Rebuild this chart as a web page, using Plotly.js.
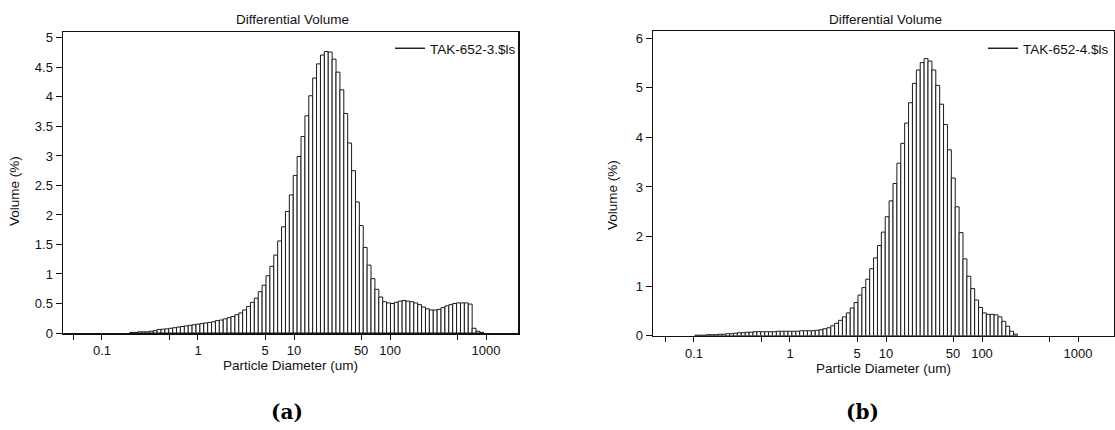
<!DOCTYPE html>
<html><head><meta charset="utf-8">
<script src="https://cdn.plot.ly/plotly-3.0.1.min.js"></script>
<style>html,body{margin:0;padding:0;background:#fff;} #chart{width:1115px;height:430px;}</style>
</head><body><div id="chart"></div>
<script>
// Channel edges (um) of the laser diffraction size analyser
const binEdges = [0.102, 0.112, 0.122, 0.134, 0.148, 0.162, 0.178, 0.195, 0.214, 0.235,
  0.258, 0.283, 0.311, 0.342, 0.375, 0.412, 0.452, 0.496, 0.545, 0.598,
  0.656, 0.721, 0.791, 0.868, 0.953, 1.047, 1.149, 1.261, 1.385, 1.520,
  1.669, 1.832, 2.011, 2.208, 2.423, 2.660, 2.920, 3.206, 3.519, 3.863,
  4.241, 4.656, 5.111, 5.611, 6.159, 6.761, 7.422, 8.148, 8.944, 9.819,
  10.78, 11.83, 12.99, 14.26, 15.65, 17.18, 18.86, 20.71, 22.73, 24.95,
  27.39, 30.07, 33.01, 36.24, 39.78, 43.67, 47.94, 52.62, 57.77, 63.41,
  69.61, 76.42, 83.89, 92.09, 101.1, 111.0, 121.8, 133.7, 146.8, 161.2,
  176.9, 194.2, 213.2, 234.1, 256.9, 282.1, 309.6, 339.9, 373.1, 409.6,
  449.7, 493.6, 541.9, 594.9, 653.0, 716.9, 786.9, 863.9, 948.3, 1041];

// Differential volume (%) per channel, sample TAK-652-3 (a)
const volumeA = [0, 0, 0, 0, 0, 0, 0, 0.01, 0.01, 0.02,
  0.02, 0.02, 0.03, 0.04, 0.06, 0.065, 0.07, 0.08, 0.09, 0.10,
  0.11, 0.12, 0.13, 0.14, 0.15, 0.16, 0.17, 0.18, 0.19, 0.21,
  0.22, 0.24, 0.26, 0.28, 0.31, 0.34, 0.39, 0.45, 0.52, 0.59,
  0.70, 0.81, 0.97, 1.13, 1.32, 1.56, 1.80, 2.06, 2.34, 2.67,
  2.99, 3.33, 3.68, 4.02, 4.32, 4.56, 4.71, 4.77, 4.76, 4.64,
  4.42, 4.12, 3.72, 3.22, 2.75, 2.22, 1.82, 1.45, 1.15, 0.92,
  0.74, 0.61, 0.53, 0.51, 0.50, 0.52, 0.54, 0.55, 0.54, 0.53,
  0.51, 0.48, 0.44, 0.41, 0.39, 0.39, 0.40, 0.43, 0.46, 0.48,
  0.50, 0.51, 0.51, 0.51, 0.49, 0.08, 0.03, 0.01, 0];

// Differential volume (%) per channel, sample TAK-652-4 (b)
const volumeB = [0.01, 0.01, 0.01, 0.02, 0.02, 0.02, 0.03, 0.03, 0.04, 0.04,
  0.05, 0.06, 0.06, 0.07, 0.07, 0.08, 0.08, 0.08, 0.08, 0.08,
  0.08, 0.09, 0.09, 0.09, 0.09, 0.09, 0.09, 0.10, 0.10, 0.10,
  0.10, 0.11, 0.12, 0.14, 0.16, 0.20, 0.25, 0.31, 0.38, 0.46,
  0.56, 0.67, 0.82, 0.97, 1.14, 1.35, 1.57, 1.82, 2.09, 2.40,
  2.72, 3.07, 3.48, 3.88, 4.29, 4.70, 5.09, 5.36, 5.51, 5.59,
  5.54, 5.36, 5.05, 4.67, 4.26, 3.75, 3.18, 2.60, 2.08, 1.55,
  1.20, 0.95, 0.72, 0.57, 0.46, 0.43, 0.43, 0.42, 0.38, 0.29,
  0.19, 0.09, 0.03, 0, 0, 0, 0, 0, 0, 0,
  0, 0, 0, 0, 0, 0, 0, 0, 0];

const seriesNames = ["TAK-652-3.$ls", "TAK-652-4.$ls"];
const panelLabels = ["(a)", "(b)"];
const tickDiameters = [0.05, 0.1, 0.5, 1, 5, 10, 50, 100, 500, 1000];
const tickLabels = ["", "0.1", "", "1", "5", "10", "50", "100", "", "1000"];

const W = 1115, H = 430;
const px = v => v / W;
const py = v => (H - v) / H;
const ink = '#111';
const sans = '"Liberation Sans", Arial, Helvetica, sans-serif';

function binTrace(values, xa, ya) {
  const x = [], y = [], w = [];
  for (let i = 0; i < values.length; i++) {
    if (!(values[i] > 0)) continue;
    const lo = Math.log10(binEdges[i]);
    const hi = Math.log10(binEdges[i + 1]);
    x.push(lo); w.push(hi - lo); y.push(values[i]);
  }
  return {type: 'bar', x: x, y: y, width: w, offset: 0, xaxis: xa, yaxis: ya,
    marker: {color: '#ffffff', line: {color: '#1a1a1a', width: 1}},
    showlegend: false, hoverinfo: 'skip'};
}
function legendTrace(name, xa, ya, lg) {
  return {type: 'scatter', mode: 'lines', x: [null], y: [null], name: name,
    xaxis: xa, yaxis: ya, legend: lg, line: {color: '#222', width: 1.5}, hoverinfo: 'skip'};
}

const data = [
  binTrace(volumeA, 'x', 'y'),
  binTrace(volumeB, 'x2', 'y2'),
  legendTrace(seriesNames[0], 'x', 'y', 'legend'),
  legendTrace(seriesNames[1], 'x2', 'y2', 'legend2')
];

function xAxis(dom, rng, anchor) {
  return {domain: dom, range: rng, anchor: anchor, type: 'linear',
    tickmode: 'array', tickvals: tickDiameters.map(Math.log10), ticktext: tickLabels,
    ticks: 'outside', ticklen: 5, tickwidth: 1, tickcolor: ink,
    showline: true, linecolor: ink, linewidth: 1.5, mirror: true,
    showgrid: false, zeroline: false, automargin: false,
    tickfont: {family: sans, size: 13, color: ink},
    title: {text: 'Particle Diameter (um)', font: {family: sans, size: 13.5, color: ink}, standoff: 2}};
}
function yAxis(dom, rng, dt, anchor) {
  return {domain: dom, range: rng, anchor: anchor, dtick: dt, tick0: 0,
    ticks: 'outside', ticklen: 6, tickwidth: 1, tickcolor: ink,
    showline: true, linecolor: ink, linewidth: 1.5, mirror: true,
    showgrid: false, zeroline: false, automargin: false,
    tickfont: {family: sans, size: 13, color: ink}};
}

const layout = {
  width: W, height: H, margin: {l: 0, r: 0, t: 0, b: 0},
  paper_bgcolor: '#fff', plot_bgcolor: '#fff',
  font: {family: sans, size: 13, color: ink},
  bargap: 0, showlegend: true, hovermode: false,
  xaxis: xAxis([px(63), px(518)], [-1.406, 3.333], 'y'),
  yaxis: yAxis([py(333), py(32)], [0, 5.1], 0.5, 'x'),
  xaxis2: xAxis([px(653), px(1114)], [-1.427, 3.375], 'y2'),
  yaxis2: yAxis([py(335.7), py(31)], [0, 6.147], 1, 'x2'),
  legend: {x: px(390), xanchor: 'left', y: py(33), yanchor: 'top', bgcolor: 'rgba(0,0,0,0)',
    borderwidth: 0, font: {family: sans, size: 13.5, color: ink}},
  legend2: {x: px(983), xanchor: 'left', y: py(33), yanchor: 'top', bgcolor: 'rgba(0,0,0,0)',
    borderwidth: 0, font: {family: sans, size: 13.5, color: ink}},
  annotations: [
    {text: 'Differential Volume', x: px(292.5), y: py(19), xref: 'paper', yref: 'paper', showarrow: false,
      xanchor: 'center', yanchor: 'middle', font: {family: sans, size: 13.5, color: ink}},
    {text: 'Differential Volume', x: px(885), y: py(19), xref: 'paper', yref: 'paper', showarrow: false,
      xanchor: 'center', yanchor: 'middle', font: {family: sans, size: 13.5, color: ink}},
    {text: 'Volume (%)', textangle: -90, x: px(15), y: py(191), xref: 'paper', yref: 'paper', showarrow: false,
      xanchor: 'center', yanchor: 'middle', font: {family: sans, size: 13.5, color: ink}},
    {text: 'Volume (%)', textangle: -90, x: px(612), y: py(195), xref: 'paper', yref: 'paper', showarrow: false,
      xanchor: 'center', yanchor: 'middle', font: {family: sans, size: 13.5, color: ink}},
    {text: '<b>' + panelLabels[0] + '</b>', x: px(287), y: py(412), xref: 'paper', yref: 'paper', showarrow: false,
      xanchor: 'center', yanchor: 'middle', font: {family: '"DejaVu Serif", "Liberation Serif", serif', size: 20, color: '#000'}},
    {text: '<b>' + panelLabels[1] + '</b>', x: px(862), y: py(412), xref: 'paper', yref: 'paper', showarrow: false,
      xanchor: 'center', yanchor: 'middle', font: {family: '"DejaVu Serif", "Liberation Serif", serif', size: 20, color: '#000'}}
  ]
};

Plotly.newPlot('chart', data, layout, {staticPlot: true, displayModeBar: false});
</script>
</body></html>
